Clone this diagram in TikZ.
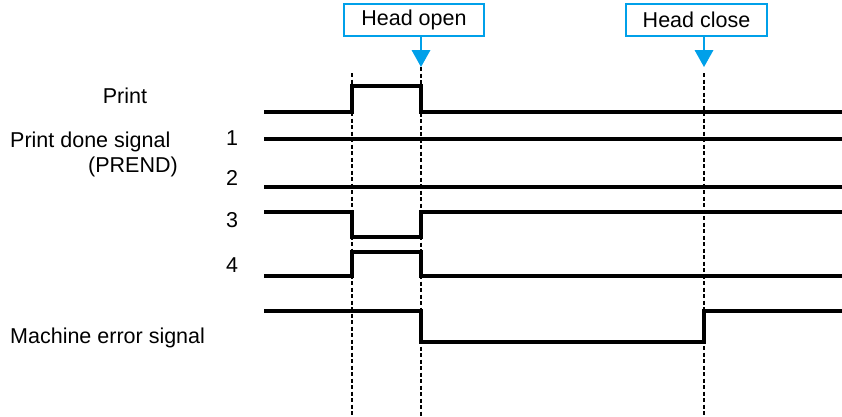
\documentclass[tikz,border=0pt]{standalone}
\usepackage{fontspec}
\setmainfont{Liberation Sans}
\definecolor{callblue}{RGB}{0,160,233}
\tikzset{
  sig/.style={line width=3.1pt, line join=miter},
  guide/.style={line width=1.3pt, dash pattern=on 4pt off 2.5pt},
  lbl/.style={font=\fontsize{21.5}{24}\selectfont, inner sep=0pt},
  callbox/.style={draw=callblue, line width=1.8pt, minimum height=31.5pt, inner sep=0pt, font=\fontsize{21.5}{24}\selectfont},
  stem/.style={draw=callblue, line width=1.8pt},
  tip/.style={fill=callblue, draw=none}
}
\begin{document}
\begin{tikzpicture}[x=1pt,y=-1pt]
\useasboundingbox (0,0) rectangle (842,416);
% callouts
\node[callbox, minimum width=140pt] (open) at (414,20) {Head open};
\node[callbox, minimum width=141pt] (close) at (696.5,20) {Head close};
\coordinate (otip) at (421,67);
\coordinate (ctip) at (704,67);
\draw[stem] (open.south -| otip) -- ++(0,15);
\draw[stem] (close.south -| ctip) -- ++(0,15);
\fill[tip] (411.5,50) -- (430.5,50) -- (otip) -- cycle;
\fill[tip] (694.5,50) -- (713.5,50) -- (ctip) -- cycle;
% guides
\draw[guide] (352,73) -- (352,416);
\draw[guide] (otip) -- (421,416);
\draw[guide] (704,73) -- (704,416);
% signals
\draw[sig] (264,112) -- (352,112) -- (352,86) -- (421,86) -- (421,112) -- (842,112);
\draw[sig] (264,139) -- (842,139);
\draw[sig] (264,187) -- (842,187);
\draw[sig] (264,212) -- (352,212) -- (352,237) -- (421,237) -- (421,212) -- (842,212);
\draw[sig] (264,276) -- (352,276) -- (352,252) -- (421,252) -- (421,276) -- (842,276);
\draw[sig] (264,311) -- (421,311) -- (421,342) -- (704,342) -- (704,311) -- (842,311);
% labels
\node[lbl, anchor=base] (lprint) at (125,103) {Print};
\node[lbl, anchor=base west] (ldone) at (10,147) {Print done signal};
\node[lbl, anchor=base east] (lprend) at (178,172) {(PREND)};
\node[lbl, anchor=base] (n1) at (232,145) {1};
\node[lbl, anchor=base] (n2) at (232,185) {2};
\node[lbl, anchor=base] (n3) at (232,227) {3};
\node[lbl, anchor=base] (n4) at (232,272) {4};
\node[lbl, anchor=base west] (lerr) at (10,343) {Machine error signal};
\end{tikzpicture}
\end{document}
